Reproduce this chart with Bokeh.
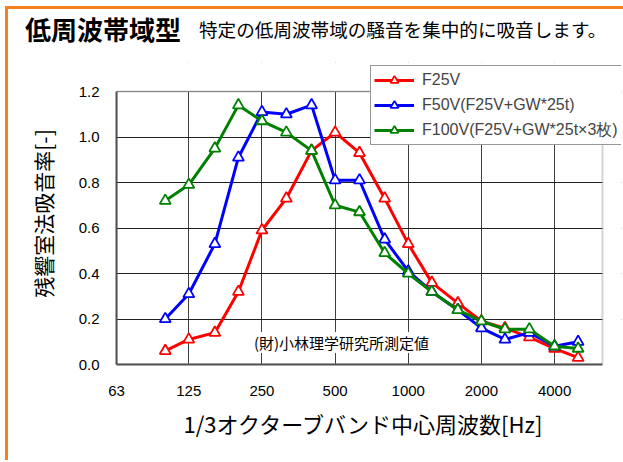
import math
from bokeh.plotting import figure
from bokeh.layouts import column
from bokeh.models import (Range1d, FixedTicker, NumeralTickFormatter, Label, Legend, LegendItem,
                          BoxAnnotation, Div, Title)
from bokeh.embed import file_html
from bokeh.resources import INLINE

# ---- data ----
freqs = [100, 125, 160, 200, 250, 315, 400, 500, 630, 800, 1000, 1250, 1600, 2000, 2500, 3150, 4000, 5000]
f25v = [0.06, 0.11, 0.14, 0.32, 0.59, 0.73, 0.94, 1.02, 0.93, 0.73, 0.53, 0.36, 0.27, 0.19, 0.16, 0.12, 0.07, 0.03]
f50v = [0.20, 0.31, 0.53, 0.91, 1.11, 1.10, 1.14, 0.81, 0.81, 0.55, 0.41, 0.32, 0.24, 0.16, 0.11, 0.14, 0.08, 0.10]
f100v = [0.72, 0.79, 0.95, 1.14, 1.07, 1.02, 0.94, 0.70, 0.67, 0.49, 0.40, 0.32, 0.24, 0.19, 0.155, 0.155, 0.08, 0.07]
series_names = ["F25V", "F50V(F25V+GW*25t)", "F100V(F25V+GW*25t×3枚)"]
series_colors = ["#FF0000", "#0000FF", "#008000"]
x_ticks = [63, 125, 250, 500, 1000, 2000, 4000]
y_ticks = [0.0, 0.2, 0.4, 0.6, 0.8, 1.0, 1.2]
x_min, x_max = 63, 6300
y_min, y_max = 0.0, 1.2
title_text = "低周波帯域型"
subtitle_text = "特定の低周波帯域の騒音を集中的に吸音します。"
x_label = "1/3オクターブバンド中心周波数[Hz]"
y_label = "残響室法吸音率[-]"
note_text = "(財)小林理学研究所測定値"

ORANGE = "#F7801E"
LATIN = "Liberation Sans"
JP = "Noto Sans CJK JP"

# ---- geometry (pixels) ----
FRAME_W, FRAME_H = 505, 302      # drawing frame (slightly larger than data box, masked)
DATA_W, DATA_H = 486, 273        # the visible plot box
x_end = x_min * (x_max / x_min) ** (FRAME_W / DATA_W)
y_end = y_min + (y_max - y_min) * FRAME_H / DATA_H

p = figure(x_axis_type="log", x_range=Range1d(x_min, x_end), y_range=Range1d(y_min, y_end),
           frame_width=FRAME_W, frame_height=FRAME_H,
           min_border_left=108, min_border_right=2, min_border_top=8, min_border_bottom=96,
           output_backend="svg", toolbar_location=None)

p.background_fill_color = "white"
p.border_fill_color = "white"
p.outline_line_color = None

# axes
p.xaxis.ticker = FixedTicker(ticks=x_ticks)
p.xaxis.formatter = NumeralTickFormatter(format="0")
p.yaxis.ticker = FixedTicker(ticks=y_ticks)
p.yaxis.formatter = NumeralTickFormatter(format="0.0")
p.xaxis.bounds = (x_min, x_max)
p.yaxis.bounds = (y_min, y_max)
for ax in (p.xaxis[0], p.yaxis[0]):
    ax.axis_line_color = "#505050"
    ax.axis_line_width = 2
    ax.major_tick_in = 0
    ax.major_tick_out = 0
    ax.minor_tick_in = 0
    ax.minor_tick_out = 0
    ax.major_label_text_font = LATIN
    ax.major_label_text_font_size = "15px"
    ax.major_label_text_color = "black"
    ax.axis_label_text_font = JP
    ax.axis_label_text_font_style = "normal"
    ax.axis_label_text_color = "black"
p.xaxis.major_label_standoff = 21
p.yaxis.major_label_standoff = 17
p.yaxis.axis_label = y_label
p.yaxis.axis_label_standoff = 18
p.yaxis.axis_label_text_font_size = "21px"

# x-axis title placed below the axis, aligned to the data box
p.add_layout(Title(text=x_label, align="left", offset=67, vertical_align="middle", standoff=15,
                   text_font=JP, text_font_size="22px", text_font_style="normal",
                   text_color="black"), "below")

p.xgrid.grid_line_color = "#404040"
p.ygrid.grid_line_color = "#202020"
p.xgrid.grid_line_width = 1
p.ygrid.grid_line_width = 1

# masks outside the data box, and the box outline
p.add_layout(BoxAnnotation(bottom=y_max, fill_color="white", fill_alpha=1, line_color=None,
                           level="underlay"))
p.add_layout(BoxAnnotation(left=x_max, fill_color="white", fill_alpha=1, line_color=None,
                           level="underlay"))
p.add_layout(BoxAnnotation(left=x_min, right=x_max, bottom=y_min, top=y_max, fill_color=None,
                           line_color="#707070", line_width=2, level="underlay"))

# note label
p.add_layout(Label(x=225, y=22, x_units="screen", y_units="screen", text=note_text,
                   text_align="center", text_baseline="middle", text_font=JP,
                   text_font_size="15px", text_color="black",
                   background_fill_color="white", level="underlay"))

items = []
for name, ys, col in zip(series_names, [f25v, f50v, f100v], series_colors):
    r1 = p.line(freqs, ys, line_color=col, line_width=3)
    r2 = p.scatter(freqs, ys, marker="triangle", size=11, line_color=col, line_width=1.8,
                   fill_color="white")
    items.append(LegendItem(label=name, renderers=[r1, r2]))

legend = Legend(items=items, location=(254, 219), margin=0, padding=3, spacing=3,
                label_height=22, glyph_width=40, glyph_height=20, label_standoff=8,
                label_text_font=LATIN, label_text_font_size="16px",
                border_line_color="#303030", border_line_width=1,
                background_fill_color="white", background_fill_alpha=1.0)
p.add_layout(legend, "center")

header = Div(
    text=("<div style=\"display:flex;align-items:center;padding-left:17px;padding-top:7px;"
          "white-space:nowrap;line-height:1;color:black;\">"
          "<span style=\"font-family:'Noto Sans CJK JP';font-weight:bold;font-size:26px;\">"
          + title_text + "</span>"
          "<span style=\"font-family:'Noto Sans CJK JP';font-size:18.6px;margin-left:18px;\">"
          + subtitle_text + "</span></div>"),
    width=615, height=45, margin=(0, 0, 0, 0))

layout = column(header, p, spacing=0)
layout.styles = {"border-left": "3px solid " + ORANGE, "border-top": "3px solid " + ORANGE,
                 "margin-left": "5px", "margin-top": "6px", "background-color": "white"}

open("out.html", "w").write(file_html(layout, INLINE))
